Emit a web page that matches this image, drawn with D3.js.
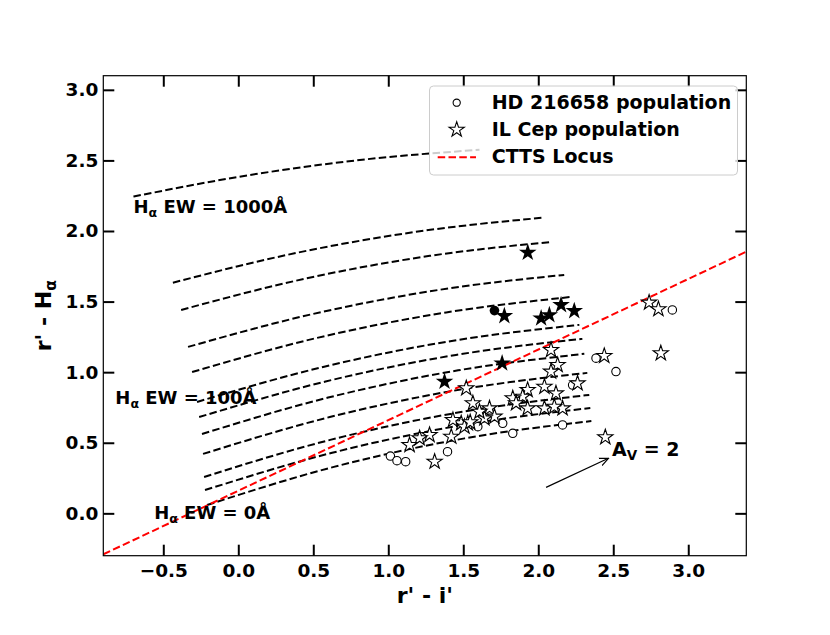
<!DOCTYPE html>
<html lang="en">
<head>
<meta charset="UTF-8">
<script src="https://d3js.org/d3.v7.min.js"></script>
<style>
  body { margin: 0; background: #fff; }
  svg text { font-family: "DejaVu Sans", sans-serif; font-weight: bold; }
</style>
</head>
<body>
<div id="plot"></div>
<script>
// tick values
const xTicks = [-0.5, 0, 0.5, 1, 1.5, 2, 2.5, 3];
const yTicks = [0, 0.5, 1, 1.5, 2, 2.5, 3];

// HD 216658 population (open = no emission, filled = emitter)
const hdOpenX = [1.014, 1.058, 1.116, 1.395, 1.597, 1.763, 1.830, 2.162, 2.229, 2.385, 2.518, 2.894];
const hdOpenY = [0.406, 0.373, 0.366, 0.437, 0.614, 0.638, 0.567, 0.626, 0.909, 1.099, 1.004, 1.441];
const hdFilledX = [1.708];
const hdFilledY = [1.436];

// IL Cep population
const ilOpenX = [2.085, 2.129, 2.085, 2.262, 2.041, 2.118, 1.929, 1.896, 1.830, 1.852, 1.929, 2.041,
                 2.162, 2.107, 1.520, 1.564, 1.675, 1.708, 1.641, 1.608, 1.530, 1.486, 1.431, 1.508,
                 1.546, 1.420, 1.275, 1.209, 1.142, 1.309, 2.739, 2.801, 2.817, 2.440, 2.447];
const ilOpenY = [1.157, 1.051, 1.004, 0.921, 0.897, 0.850, 0.874, 0.826, 0.815, 0.780, 0.744, 0.744,
                 0.744, 0.755, 0.886, 0.780, 0.744, 0.685, 0.673, 0.720, 0.638, 0.638, 0.661, 0.614,
                 0.645, 0.543, 0.555, 0.532, 0.484, 0.366, 1.493, 1.446, 1.134, 1.115, 0.539];
const ilFilledX = [1.930, 1.774, 2.019, 2.074, 2.152, 2.240, 1.759, 1.375];
const ilFilledY = [1.847, 1.398, 1.382, 1.405, 1.476, 1.434, 1.063, 0.933];

// H-alpha EW model curves (1000 A at top down to 0 A at bottom)
const ewCurveX = [
  [-0.699, 0.062, 0.847, 1.608],
  [-0.436, 0.375, 1.210, 2.021],
  [-0.381, 0.436, 1.277, 2.094],
  [-0.335, 0.493, 1.345, 2.173],
  [-0.308, 0.526, 1.386, 2.220],
  [-0.275, 0.566, 1.433, 2.274],
  [-0.261, 0.582, 1.451, 2.294],
  [-0.242, 0.599, 1.466, 2.307],
  [-0.235, 0.610, 1.482, 2.327],
  [-0.228, 0.619, 1.493, 2.340],
  [-0.222, 0.626, 1.499, 2.347],
  [-0.208, 0.637, 1.509, 2.354]
];
const ewCurveY = [
  [2.244, 2.394, 2.507, 2.575],
  [1.634, 1.842, 1.998, 2.093],
  [1.441, 1.660, 1.824, 1.923],
  [1.179, 1.411, 1.584, 1.689],
  [1.001, 1.243, 1.423, 1.533],
  [0.789, 1.037, 1.223, 1.335],
  [0.682, 0.934, 1.122, 1.236],
  [0.562, 0.820, 1.013, 1.130],
  [0.421, 0.682, 0.877, 0.995],
  [0.258, 0.522, 0.719, 0.839],
  [0.165, 0.429, 0.626, 0.746],
  [0.059, 0.329, 0.531, 0.654]
];

// CTTS locus
const cttsX = [-0.9, 3.39];
const cttsY = [-0.29, 1.855];

// EW labels
const ewLabelText = ["1000Å", "100Å", "0Å"];
const ewLabelX = [-0.699, -0.820, -0.561];
const ewLabelY = [2.126, 0.775, -0.040];

// reddening vector
const avArrowX = [2.052, 2.468];
const avArrowY = [0.184, 0.390];
const avLabelX = 2.491, avLabelY = 0.406;

const legendLabels = ["HD 216658 population", "IL Cep population", "CTTS Locus"];

function draw() {
  const width = 830, height = 635;
  const left = 103.3, right = 746.3, top = 75.7, bottom = 555.7;
  const tickLen = 11;

  const svg = d3.select("#plot").append("svg")
      .attr("width", width)
      .attr("height", height);

  const x = d3.scaleLinear().domain([-0.9, 3.387]).range([left, right]);
  const y = d3.scaleLinear().domain([-0.30, 3.10]).range([bottom, top]);

  const defs = svg.append("defs");
  defs.append("clipPath").attr("id", "clip")
    .append("rect")
      .attr("x", left).attr("y", top)
      .attr("width", right - left).attr("height", bottom - top);
  defs.append("marker")
      .attr("id", "head")
      .attr("viewBox", "0 -5 10 10")
      .attr("refX", 9).attr("refY", 0)
      .attr("markerWidth", 10).attr("markerHeight", 10)
      .attr("markerUnits", "userSpaceOnUse")
      .attr("orient", "auto")
    .append("path")
      .attr("d", "M0,-4L9,0L0,4")
      .attr("fill", "none")
      .attr("stroke", "black")
      .attr("stroke-width", 1.2);

  // axes with inward ticks
  const fmt = d3.format(".1f");
  const xAxis = svg.append("g")
      .attr("transform", `translate(0,${bottom})`)
      .call(d3.axisBottom(x).tickValues(xTicks).tickFormat(fmt).tickSize(-tickLen).tickPadding(8));
  const xTop = svg.append("g")
      .attr("transform", `translate(0,${top})`)
      .call(d3.axisTop(x).tickValues(xTicks).tickFormat("").tickSize(-tickLen));
  const yAxis = svg.append("g")
      .attr("transform", `translate(${left},0)`)
      .call(d3.axisLeft(y).tickValues(yTicks).tickFormat(fmt).tickSize(-tickLen).tickPadding(5));
  const yRight = svg.append("g")
      .attr("transform", `translate(${right},0)`)
      .call(d3.axisRight(y).tickValues(yTicks).tickFormat("").tickSize(-tickLen));

  [xAxis, xTop, yAxis, yRight].forEach(a => {
    a.select(".domain").remove();
    a.selectAll(".tick line").attr("stroke", "black").attr("stroke-width", 2);
    a.selectAll(".tick text")
      .attr("fill", "black")
      .style("font-size", "18.5px")
      .style("font-family", "'DejaVu Sans', sans-serif")
      .style("font-weight", "bold");
  });

  const plot = svg.append("g").attr("clip-path", "url(#clip)");

  // EW curves
  const line = d3.line()
      .x(d => x(d[0]))
      .y(d => y(d[1]))
      .curve(d3.curveMonotoneX);

  plot.selectAll("path.ew")
    .data(ewCurveX.map((xs, i) => xs.map((v, j) => [v, ewCurveY[i][j]])))
    .join("path")
      .attr("class", "ew")
      .attr("d", line)
      .attr("fill", "none")
      .attr("stroke", "black")
      .attr("stroke-width", 2)
      .attr("stroke-dasharray", "7.5,3.3");

  // CTTS locus
  plot.append("path")
      .attr("d", d3.line().x(d => x(d[0])).y(d => y(d[1]))(cttsX.map((v, i) => [v, cttsY[i]])))
      .attr("fill", "none")
      .attr("stroke", "red")
      .attr("stroke-width", 2)
      .attr("stroke-dasharray", "7.5,3.3");

  // HD 216658 circles
  plot.selectAll("circle.hdo")
    .data(hdOpenX.map((v, i) => [v, hdOpenY[i]]))
    .join("circle")
      .attr("cx", d => x(d[0])).attr("cy", d => y(d[1]))
      .attr("r", 4.2)
      .attr("fill", "white")
      .attr("stroke", "black")
      .attr("stroke-width", 1.1);
  plot.selectAll("circle.hdf")
    .data(hdFilledX.map((v, i) => [v, hdFilledY[i]]))
    .join("circle")
      .attr("cx", d => x(d[0])).attr("cy", d => y(d[1]))
      .attr("r", 4.8)
      .attr("fill", "black");

  // IL Cep stars
  const starOpen = d3.symbol().type(d3.symbolStar).size(72)();
  const starFilled = d3.symbol().type(d3.symbolStar).size(96)();
  plot.selectAll("path.ilo")
    .data(ilOpenX.map((v, i) => [v, ilOpenY[i]]))
    .join("path")
      .attr("d", starOpen)
      .attr("transform", d => `translate(${x(d[0])},${y(d[1])})`)
      .attr("fill", "white")
      .attr("stroke", "black")
      .attr("stroke-width", 1.1);
  plot.selectAll("path.ilf")
    .data(ilFilledX.map((v, i) => [v, ilFilledY[i]]))
    .join("path")
      .attr("d", starFilled)
      .attr("transform", d => `translate(${x(d[0])},${y(d[1])})`)
      .attr("fill", "black");

  // EW labels
  ewLabelText.forEach((t, i) => {
    const txt = svg.append("text")
        .attr("x", x(ewLabelX[i]))
        .attr("y", y(ewLabelY[i]))
        .style("font-size", "18px");
    txt.append("tspan").text("H");
    txt.append("tspan").attr("dy", 4).style("font-size", "12.5px").text("α");
    txt.append("tspan").attr("dy", -4).text(" EW = " + t);
  });

  // reddening arrow
  svg.append("line")
      .attr("x1", x(avArrowX[0])).attr("y1", y(avArrowY[0]))
      .attr("x2", x(avArrowX[1])).attr("y2", y(avArrowY[1]))
      .attr("stroke", "black")
      .attr("stroke-width", 1.2)
      .attr("marker-end", "url(#head)");
  const av = svg.append("text")
      .attr("x", x(avLabelX))
      .attr("y", y(avLabelY))
      .style("font-size", "19px");
  av.append("tspan").text("A");
  av.append("tspan").attr("dy", 4).style("font-size", "13.5px").text("V");
  av.append("tspan").attr("dy", -4).text(" = 2");

  // frame
  svg.append("rect")
      .attr("x", left).attr("y", top)
      .attr("width", right - left).attr("height", bottom - top)
      .attr("fill", "none")
      .attr("stroke", "black")
      .attr("stroke-width", 1.2);

  // axis labels
  svg.append("text")
      .attr("x", (left + right) / 2)
      .attr("y", 603)
      .attr("text-anchor", "middle")
      .style("font-size", "22px")
      .text("r' - i'");
  const yl = svg.append("text")
      .attr("transform", `translate(51,${(top + bottom) / 2}) rotate(-90)`)
      .attr("text-anchor", "middle")
      .style("font-size", "22px");
  yl.append("tspan").text("r' - H");
  yl.append("tspan").attr("dy", 5).style("font-size", "15.5px").text("α");

  // legend
  const lg = svg.append("g");
  lg.append("rect")
      .attr("x", 429.5).attr("y", 86)
      .attr("width", 308).attr("height", 89)
      .attr("rx", 4)
      .attr("fill", "white")
      .attr("fill-opacity", 0.8)
      .attr("stroke", "#cccccc")
      .attr("stroke-width", 1);
  const rowY = [102.7, 129.7, 157.3];
  lg.append("circle")
      .attr("cx", 456.7).attr("cy", rowY[0]).attr("r", 3.6)
      .attr("fill", "white").attr("stroke", "black").attr("stroke-width", 1.1);
  lg.append("path")
      .attr("d", starOpen)
      .attr("transform", `translate(456.7,${rowY[1]})`)
      .attr("fill", "white").attr("stroke", "black").attr("stroke-width", 1.1);
  lg.append("line")
      .attr("x1", 437.7).attr("x2", 476)
      .attr("y1", rowY[2]).attr("y2", rowY[2])
      .attr("stroke", "red").attr("stroke-width", 2)
      .attr("stroke-dasharray", "7.5,3.3");
  lg.selectAll("text.lab")
    .data(legendLabels)
    .join("text")
      .attr("x", 491.7)
      .attr("y", (d, i) => rowY[i] + 6)
      .style("font-size", "19px")
      .text(d => d);
}

draw();
</script>
</body>
</html>
